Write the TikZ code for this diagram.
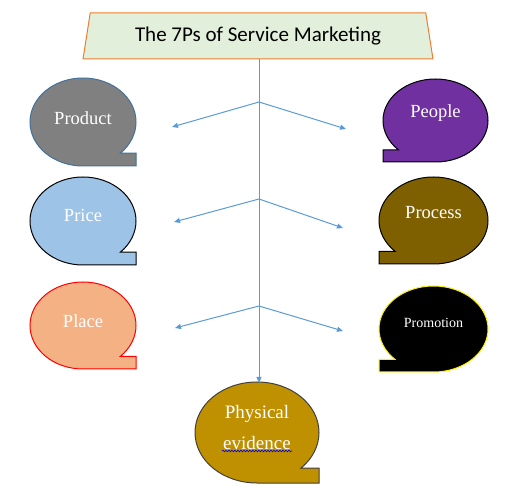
\documentclass[tikz,border=0pt]{standalone}
\usepackage{fontspec}
\setmainfont{Liberation Serif}
\newfontfamily\calibrifont{Carlito}
\usetikzlibrary{arrows.meta,shapes.geometric,decorations.pathmorphing}

\definecolor{linkblue}{HTML}{5B9BD5}
\definecolor{titlefill}{HTML}{E2EFDA}
\definecolor{titleline}{HTML}{ED7D31}
\definecolor{productfill}{HTML}{808080}
\definecolor{productline}{HTML}{41719C}
\definecolor{pricefill}{HTML}{9DC3E6}
\definecolor{placefill}{HTML}{F4B183}
\definecolor{peoplefill}{HTML}{7030A0}
\definecolor{processfill}{HTML}{7F6000}
\definecolor{physfill}{HTML}{BF9000}

% speech bubble with its tail at the bottom right: #1 style, #2 cx, #3 cy, #4 rx, #5 ry
\newcommand{\bubbleright}[5]{%
  \path[#1] (#2,#3-#5) arc[start angle=-90, end angle=-405, x radius=#4pt, y radius=#5pt]
    -- (#2+#4,#3-0.707*#5) -- (#2+#4,#3-#5) -- cycle;}
% same, tail at the bottom left
\newcommand{\bubbleleft}[5]{%
  \path[#1] (#2,#3-#5) arc[start angle=-90, end angle=225, x radius=#4pt, y radius=#5pt]
    -- (#2-#4,#3-0.707*#5) -- (#2-#4,#3-#5) -- cycle;}

\begin{document}
\begin{tikzpicture}[
    x=1pt, y=1pt,
    >={Triangle[length=6pt,width=5pt]},
    titlebox/.style={trapezium, trapezium stretches=true, trapezium left angle=77.7,
        trapezium right angle=77.7, minimum width=351pt, minimum height=46pt,
        draw=titleline, line width=1pt, fill=titlefill, font=\calibrifont\fontsize{21}{25}\selectfont},
    bubbletext/.style={text=white, font=\fontsize{18.5}{22}\selectfont},
    link/.style={->, linkblue, line width=1pt},
    bubble/.style={line width=1pt}
]
\useasboundingbox (0,0) rectangle (527,495);

% ---------- title ----------
\node[titlebox] (title) at (258,459) {The 7Ps of Service Marketing};

% ---------- left bubbles ----------
\bubbleright{bubble, fill=productfill, draw=productline}{83}{373}{53}{44}
\bubbleright{bubble, fill=pricefill, draw=black}{83}{274}{53}{44}
\bubbleright{bubble, fill=placefill, draw=red}{83}{169.5}{53}{43.5}
\node[bubbletext] (product) at (83,377) {Product};
\node[bubbletext] (price) at (83,280) {Price};
\node[bubbletext] (place) at (83,174) {Place};

% ---------- right bubbles ----------
\bubbleleft{bubble, fill=peoplefill, draw=black}{435.5}{374.5}{52.5}{41.5}
\bubbleleft{bubble, fill=processfill, draw=black}{433.5}{274.5}{54.5}{43.5}
\bubbleleft{bubble, fill=black, draw=yellow}{433.5}{166}{54.5}{43}
\node[bubbletext] (people) at (435.5,382) {People};
\node[bubbletext] (process) at (433.5,282) {Process};
\node[bubbletext, font=\fontsize{14}{17}\selectfont] (promotion) at (433.5,172) {Promotion};

% ---------- physical evidence ----------
\bubbleright{bubble, fill=physfill, draw=black!75}{257}{62.5}{62}{50.5}
\node[bubbletext, align=center, font=\fontsize{19}{31}\selectfont] (phys) at (257,67.5) {Physical\\evidence};
\draw[blue!80!black, line width=0.6pt, decorate, decoration={snake, amplitude=0.8pt, segment length=3pt}]
    (222,44) -- (292,44);

% ---------- connectors ----------
\coordinate (physin) at (259,112);
\coordinate (j1) at (259,393);
\coordinate (j2) at (259,296);
\coordinate (j3) at (259,189);
\coordinate (t1l) at (172,368);
\coordinate (t1r) at (346,366);
\coordinate (t2l) at (174,273);
\coordinate (t2r) at (343,267);
\coordinate (t3l) at (175,167);
\coordinate (t3r) at (343,164);
\draw[link] (title.south -| physin) -- (physin);
\draw[link] (j1) -- (t1l);
\draw[link] (j1) -- (t1r);
\draw[link] (j2) -- (t2l);
\draw[link] (j2) -- (t2r);
\draw[link] (j3) -- (t3l);
\draw[link] (j3) -- (t3r);
\end{tikzpicture}
\end{document}
